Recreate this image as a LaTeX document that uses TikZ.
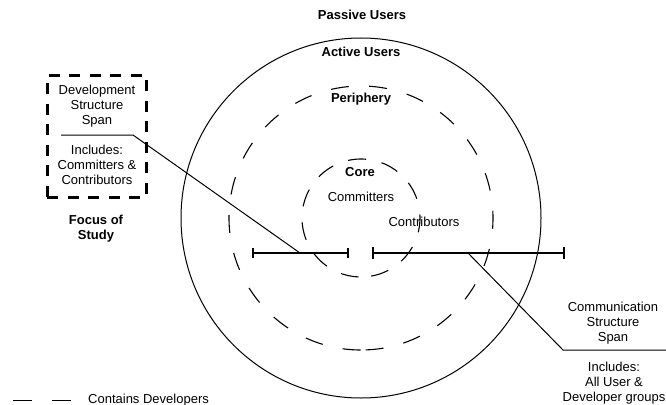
\documentclass[tikz,border=0pt]{standalone}
\usepackage{fontspec}
\setmainfont{Liberation Sans}
\begin{document}
\begin{tikzpicture}[x=1pt,y=-1pt,
  lbl/.style={font=\fontsize{13}{15}\selectfont, align=center, inner sep=0pt},
  hdr/.style={font=\fontsize{13}{15}\selectfont\bfseries, align=center, inner sep=0pt},
  ring/.style={line width=1pt},
  pring/.style={line width=1.1pt, dash pattern=on 18pt off 20.4pt},
  cring/.style={line width=1.1pt, dash pattern=on 18pt off 16pt},
  focusbox/.style={draw, line width=3pt, dash pattern=on 11pt off 9.5pt, minimum width=99pt, minimum height=122pt, inner sep=0pt},
  leader/.style={line width=1pt},
  spanbar/.style={line width=1.2pt},
  thintick/.style={line width=1.3pt},
  tick/.style={line width=2pt},
  legend/.style={line width=1pt, dash pattern=on 19pt off 20pt}]
\useasboundingbox (0,0) rectangle (666,404);

% circles
\coordinate (ctr) at (361,218);
\draw[ring] (ctr) circle[radius=180pt];
\draw[pring] (ctr) ++(-88:132pt) arc[start angle=-88, end angle=272, radius=132pt];
\draw[cring] (ctr) ++(-80:59pt) arc[start angle=-80, end angle=280, radius=59pt];

% ring labels
\node[hdr, anchor=base] (passive) at (362,20) {Passive Users};
\node[hdr, anchor=base] (active) at (361,56.5) {Active Users};
\node[hdr, anchor=base] (periph) at (361,102.6) {Periphery};
\node[hdr, anchor=base] (core) at (360,176) {Core};
\node[lbl, anchor=base] (committers) at (361,201) {Committers};
\node[lbl, anchor=base] (contrib) at (424,226) {Contributors};

% focus box
\node[focusbox] (focus) at (96.5,136) {};
\node[lbl, anchor=north] (devspan) at (97,85) {Development\\Structure\\Span};
\node[lbl, anchor=north] (devinc) at (97,145) {Includes:\\Committers \&\\Contributors};
\node[hdr, anchor=north] (fos) at (96,215) {Focus of\\Study};

% span bars
\coordinate (dL) at (253,253);
\coordinate (dR) at (348,253);
\coordinate (cL) at (373,253);
\coordinate (cR) at (564,253);
\draw[spanbar] (dL) -- (dR);
\draw[spanbar] (cL) -- (cR);
\foreach \p in {dL,dR} \draw[thintick] (\p) ++(0,-5) -- ++(0,10);
\foreach \p in {cL,cR} \draw[tick] (\p) ++(0,-6) -- ++(0,12);

% leaders
\coordinate (devA) at (61,135);
\coordinate (devB) at (133,135);
\coordinate (devC) at (300,253);
\draw[leader] (devA) -- (devB) -- (devC);
\coordinate (comA) at (468,253);
\coordinate (comB) at (563,350);
\coordinate (comC) at (666,350);
\draw[leader] (comA) -- (comB) -- (comC);

% communication labels
\node[lbl, anchor=north] (comspan) at (613,301.7) {Communication\\Structure\\Span};
\node[lbl, anchor=north] (cominc) at (614,361.7) {Includes:\\All User \&\\Developer groups};

% legend
\coordinate (legA) at (13,400);
\coordinate (legB) at (71,400);
\draw[legend] (legA) -- (legB);
\node[lbl, anchor=base west] (legtxt) at (88,403.5) {Contains Developers};
\end{tikzpicture}
\end{document}
